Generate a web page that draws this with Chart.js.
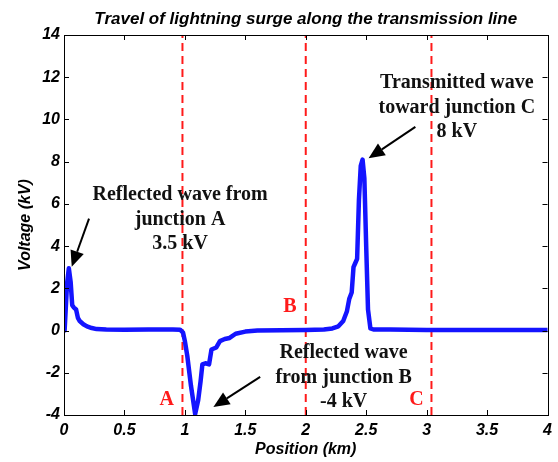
<!DOCTYPE html>
<html>
<head>
<meta charset="utf-8">
<script src="https://cdn.jsdelivr.net/npm/chart.js@4.4.1/dist/chart.umd.min.js"></script>
<style>
  html, body { margin: 0; padding: 0; background: #fff; }
  #wrap { width: 558px; height: 462px; }
</style>
</head>
<body>
<div id="wrap"><canvas id="surgeChart" width="558" height="462"></canvas></div>
<script>
// --- Data ---
const positionKm = [0.005, 0.025, 0.04, 0.055, 0.068, 0.08, 0.1, 0.115, 0.13, 0.16, 0.19, 0.23, 0.27, 0.35, 0.5, 0.7, 0.9, 0.96,
  0.985, 1.0, 1.02, 1.05, 1.085, 1.11, 1.13, 1.145, 1.17, 1.2, 1.22, 1.26, 1.29, 1.33, 1.37, 1.42, 1.5, 1.6, 1.8, 2.0,
  2.15, 2.22, 2.27, 2.31, 2.34, 2.36, 2.38, 2.395, 2.41, 2.425, 2.44, 2.455, 2.47, 2.485, 2.5, 2.515, 2.535, 2.56,
  2.7, 3.0, 3.5, 4.0];
const voltageKv = [0, 2.2, 2.95, 2.3, 1.2, 1.1, 1.0, 0.6, 0.45, 0.3, 0.2, 0.12, 0.07, 0.05, 0.04, 0.05, 0.05, 0.04,
  -0.1, -0.5, -1.2, -2.6, -3.95, -3.3, -2.4, -1.6, -1.55, -1.6, -0.9, -0.8, -0.5, -0.4, -0.35, -0.15, -0.05, 0, 0.02, 0.03,
  0.05, 0.1, 0.2, 0.45, 0.9, 1.5, 1.8, 3.0, 3.2, 3.4, 6.2, 7.8, 8.1, 7.2, 4.0, 1.0, 0.1, 0.05,
  0.05, 0.03, 0.03, 0.03];

const junctionKm = [0.98, 2.0, 3.04];          // dashed red markers
const junctionNames = ["A", "B", "C"];
const xTicks = [0, 0.5, 1, 1.5, 2, 2.5, 3, 3.5, 4];
const yTicks = [-4, -2, 0, 2, 4, 6, 8, 10, 12, 14];

// notes: anchor in data units (centre of first line baseline)
const notes = [
  { x: 0.96, y: 6.17, lines: ["Reflected wave from", "junction A", "3.5 kV"] },
  { x: 3.25, y: 11.47, lines: ["Transmitted wave", "toward junction C", "8 kV"] },
  { x: 2.313, y: -1.32, lines: ["Reflected wave", "from junction B", "-4 kV"] }
];
const letterPos = [{ x: 0.85, y: -3.54 }, { x: 1.87, y: 0.89 }, { x: 2.915, y: -3.54 }];
const arrows = [
  { from: [0.207, 5.3], to: [0.064, 3.02] },
  { from: [2.907, 9.65], to: [2.52, 8.16] },
  { from: [1.623, -2.19], to: [1.236, -3.62] }
];

const tickFont = { family: "'Liberation Sans', Arial, sans-serif", size: 16, weight: "bold", style: "italic" };

// --- Datasets ---
const surgeData = positionKm.map((x, i) => ({ x: x, y: voltageKv[i] }));
const junctionSets = junctionKm.map(x => ({
  data: [{ x: x, y: -4 }, { x: x, y: 14 }],
  borderColor: "#ff1a1a",
  borderWidth: 2,
  borderDash: [8, 5],
  pointRadius: 0,
  order: 2
}));

// --- Plugin: frame, inner ticks, notes, arrows ---
const decorations = {
  id: "decorations",
  afterDraw(chart) {
    const c = chart.ctx;
    const a = chart.chartArea;
    const xs = chart.scales.x, ys = chart.scales.y;
    c.save();
    c.strokeStyle = "#000";
    c.lineWidth = 1;
    c.strokeRect(Math.round(a.left) + 0.5, Math.round(a.top) + 0.5,
      Math.round(a.right - a.left), Math.round(a.bottom - a.top));
    c.beginPath();
    xTicks.forEach(v => {
      const px = Math.round(xs.getPixelForValue(v)) + 0.5;
      c.moveTo(px, a.bottom); c.lineTo(px, a.bottom - 5);
      c.moveTo(px, a.top); c.lineTo(px, a.top + 5);
    });
    yTicks.forEach(v => {
      const py = Math.round(ys.getPixelForValue(v)) + 0.5;
      c.moveTo(a.left, py); c.lineTo(a.left + 5, py);
      c.moveTo(a.right, py); c.lineTo(a.right - 5, py);
    });
    c.stroke();

    // notes
    c.fillStyle = "#111";
    c.font = "bold 20px 'Liberation Serif', 'Times New Roman', serif";
    c.textAlign = "center";
    c.textBaseline = "alphabetic";
    notes.forEach(n => {
      const px = xs.getPixelForValue(n.x), py = ys.getPixelForValue(n.y);
      n.lines.forEach((t, i) => c.fillText(t, px, py + i * 24.5));
    });
    c.fillStyle = "#ff1a1a";
    letterPos.forEach((p, i) => {
      c.fillText(junctionNames[i], xs.getPixelForValue(p.x), ys.getPixelForValue(p.y));
    });

    // arrows
    c.strokeStyle = "#000";
    c.fillStyle = "#000";
    c.lineWidth = 2;
    arrows.forEach(ar => {
      const x0 = xs.getPixelForValue(ar.from[0]), y0 = ys.getPixelForValue(ar.from[1]);
      const x1 = xs.getPixelForValue(ar.to[0]), y1 = ys.getPixelForValue(ar.to[1]);
      const ang = Math.atan2(y1 - y0, x1 - x0);
      const hl = 16, hw = 7;
      const bx = x1 - hl * Math.cos(ang), by = y1 - hl * Math.sin(ang);
      c.beginPath();
      c.moveTo(x0, y0); c.lineTo(bx, by);
      c.stroke();
      c.beginPath();
      c.moveTo(x1, y1);
      c.lineTo(bx + hw * Math.sin(ang), by - hw * Math.cos(ang));
      c.lineTo(bx - hw * Math.sin(ang), by + hw * Math.cos(ang));
      c.closePath();
      c.fill();
    });
    c.restore();
  }
};

// --- Chart ---
const ctx = document.getElementById("surgeChart").getContext("2d");
const surgeChart = new Chart(ctx, {
  type: "line",
  data: {
    datasets: [{
      data: surgeData,
      borderColor: "#1414ff",
      borderWidth: 4.5,
      borderJoinStyle: "round",
      borderCapStyle: "round",
      pointRadius: 0,
      tension: 0,
      order: 1
    }, ...junctionSets]
  },
  options: {
    responsive: false,
    animation: false,
    layout: { padding: { top: 0, right: 10.5, left: 0, bottom: 0 } },
    plugins: {
      legend: { display: false },
      tooltip: { enabled: false },
      title: {
        display: true,
        fullSize: false,
        text: "Travel of lightning surge along the transmission line",
        color: "#000",
        font: { family: "'Liberation Sans', Arial, sans-serif", size: 17, weight: "bold", style: "italic" },
        padding: { top: 9, bottom: 5.6 }
      }
    },
    scales: {
      x: {
        type: "linear",
        min: 0, max: 4,
        afterFit: s => { s.height = 47; },
        afterBuildTicks: s => { s.ticks = xTicks.map(v => ({ value: v })); },
        grid: { display: false, drawTicks: false },
        border: { display: false },
        ticks: { color: "#000", font: tickFont, padding: 6, maxRotation: 0, callback: v => String(v) },
        title: { display: true, text: "Position (km)", color: "#000", font: tickFont, padding: { top: 0, bottom: 3 } }
      },
      y: {
        type: "linear",
        min: -4, max: 14,
        afterFit: s => { s.width = 64; },
        afterBuildTicks: s => { s.ticks = yTicks.map(v => ({ value: v })); },
        grid: { display: false, drawTicks: false },
        border: { display: false },
        ticks: { color: "#000", font: tickFont, padding: 4, callback: v => String(v) },
        title: { display: true, text: "Voltage (kV)", color: "#000", font: tickFont, padding: { top: 16, bottom: 0 } }
      }
    }
  },
  plugins: [decorations]
});
</script>
</body>
</html>
